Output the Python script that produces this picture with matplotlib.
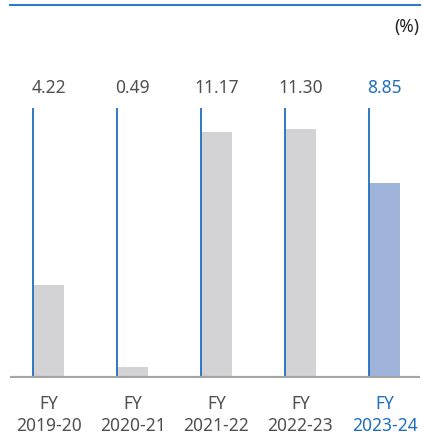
import matplotlib.pyplot as plt

# --- data ---
years = ['2019-20', '2020-21', '2021-22', '2022-23', '2023-24']
values = [4.22, 0.49, 11.17, 11.30, 8.85]
highlight = 4  # latest year

plt.rcParams['font.family'] = ['Noto Sans', 'DejaVu Sans']

grey_bar = '#d3d3d5'
blue_bar = '#a0b3db'
blue = '#1f6fbf'
text_grey = '#505050'

W, H = 423, 434
fig = plt.figure(figsize=(W / 100, H / 100), dpi=100)

# axes: left 10px, right 420px, baseline 378px, top line 5px
ax = fig.add_axes([10 / W, (H - 378) / H, 410 / W, 373 / H])
px = 22.0  # pixels per unit
step = 84.0
ax.set_xlim(-23 / step, 387 / step)
ax.set_ylim(0, 373 / px)

bw = 31 / step
xs = list(range(len(values)))
colors = [blue_bar if i == highlight else grey_bar for i in xs]
ax.bar(xs, values, width=bw, align='edge', color=colors, zorder=2)

line_top = (378 - 108) / px
label_y = (378 - 88) / px
for i, v in zip(xs, values):
    ax.vlines(i, 0, line_top, color=blue, lw=1.3, zorder=3)
    c = blue if i == highlight else text_grey
    ax.text(i + bw / 2, label_y, f'{v:.2f}', ha='center', va='center',
            fontsize=12.5, color=c)

ax.axhline(0, color='#a5a5a5', lw=3, zorder=4)

for s in ['left', 'right', 'bottom']:
    ax.spines[s].set_visible(False)
ax.spines['top'].set_color('#2c7ac9')
ax.spines['top'].set_linewidth(1.5)

ax.set_yticks([])
ax.set_xticks([i + bw / 2 for i in xs])
ax.set_xticklabels(['FY\n' + y for y in years], fontsize=12.5, linespacing=1.3)
ax.tick_params(axis='x', length=0, pad=12)
for i, lab in enumerate(ax.get_xticklabels()):
    lab.set_color(blue if i == highlight else text_grey)

fig.text(419 / W, 1 - 27 / H, '(%)', ha='right', va='center',
         fontsize=12.5, color='#222222')

fig.savefig('out.png', dpi=100)
